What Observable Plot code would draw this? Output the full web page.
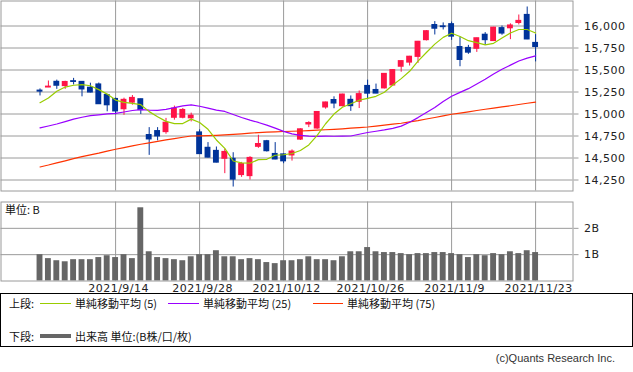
<!DOCTYPE html>
<html><head><meta charset="utf-8">
<script src="https://cdn.jsdelivr.net/npm/d3@7"></script>
<script src="https://cdn.jsdelivr.net/npm/@observablehq/plot@0.6"></script>
<style>
body{margin:0;background:#fff;}
#wrap{position:relative;width:633px;height:372px;overflow:hidden;font-family:"DejaVu Sans",sans-serif;}
#wrap svg{position:absolute;left:0;}
.t{position:absolute;font-family:"Noto Sans CJK JP","DejaVu Sans",sans-serif;font-size:11px;color:#111;white-space:nowrap;line-height:12px;}
.ln{position:absolute;}
</style></head><body><div id="wrap"></div>
<script>
const dates = ["2021/8/31","2021/9/1","2021/9/2","2021/9/3","2021/9/7","2021/9/8","2021/9/9","2021/9/10","2021/9/13","2021/9/14",
"2021/9/15","2021/9/16","2021/9/17","2021/9/20","2021/9/21","2021/9/22","2021/9/23","2021/9/24","2021/9/27","2021/9/28",
"2021/9/29","2021/9/30","2021/10/1","2021/10/4","2021/10/5","2021/10/6","2021/10/7","2021/10/8","2021/10/11","2021/10/12",
"2021/10/13","2021/10/14","2021/10/15","2021/10/18","2021/10/19","2021/10/20","2021/10/21","2021/10/22","2021/10/25","2021/10/26",
"2021/10/27","2021/10/28","2021/10/29","2021/11/1","2021/11/2","2021/11/3","2021/11/4","2021/11/5","2021/11/8","2021/11/9",
"2021/11/10","2021/11/11","2021/11/12","2021/11/15","2021/11/16","2021/11/17","2021/11/18","2021/11/19","2021/11/22","2021/11/23"];
const open  = [15265,15302,15365,15318,15372,15364,15298,15335,15215,15170,15055,15130,15167,14760,14805,14795,14958,14958,14952,14790,
14615,14580,14492,14490,14307,14295,14628,14690,14545,14540,14530,14710,14882,14836,15075,15158,15090,15160,15140,15318,
15272,15292,15325,15538,15585,15650,15840,16010,15995,16020,15760,15750,15742,15900,15830,15975,15975,16035,16125,15807];
const high  = [15285,15375,15385,15372,15405,15368,15350,15352,15220,15180,15180,15210,15170,14845,14845,14950,15090,15062,15010,14820,
14675,14625,14600,14560,14450,14515,14758,14700,14675,14545,14592,14832,14912,15027,15135,15195,15225,15205,15262,15385,
15340,15460,15505,15605,15655,15825,15948,16050,16035,16045,15875,15780,15862,15925,15985,16000,16025,16125,16216,15902];
const low   = [15205,15300,15280,15280,15330,15195,15240,15110,15025,14990,14985,15100,14995,14530,14695,14770,14930,14945,14910,14540,
14500,14445,14322,14170,14280,14250,14610,14568,14480,14435,14465,14700,14845,14826,15055,15060,15080,15030,15062,15168,
15230,15285,15322,15475,15545,15575,15830,15898,15955,15837,15537,15678,15700,15780,15825,15895,15845,16012,15845,15592];
const close = [15255,15310,15322,15363,15365,15280,15245,15112,15100,15030,15160,15182,15045,14712,14746,14900,15060,15045,14980,14545,
14505,14448,14568,14255,14430,14500,14658,14578,14484,14463,14572,14825,14896,15022,15130,15120,15220,15090,15225,15232,
15233,15455,15498,15600,15650,15820,15940,15970,15988,15880,15615,15698,15860,15840,15980,15915,16005,16057,15848,15762];
const volume = [1.00,0.85,0.77,0.73,0.81,0.81,0.81,0.89,0.96,0.89,1.00,0.85,2.78,1.11,0.89,0.85,0.81,0.77,0.92,1.00,
1.00,1.15,0.92,0.92,0.81,0.85,0.81,0.70,0.66,0.77,0.77,0.81,0.92,0.81,0.81,0.77,0.92,1.11,1.11,1.27,
1.11,1.08,1.08,1.04,1.00,1.04,1.04,1.08,1.08,1.04,1.00,0.89,1.00,0.96,1.04,1.00,1.11,1.04,1.15,1.08];
const ma5 = [15128,15182,15259,15306,15327,15333,15321,15277,15226,15158,15133,15120,15106,15027,14969,14916,14890,14891,14942,14903,
14826,14705,14609,14466,14444,14441,14482,14485,14531,14537,14551,14585,14649,14756,14889,14999,15077,15116,15157,15178,
15201,15247,15329,15402,15485,15601,15699,15794,15871,15918,15880,15833,15811,15785,15803,15863,15920,15960,15960,15920];
const ma25 = [14842,14864,14886,14914,14942,14963,14981,14990,15001,15008,15023,15040,15049,15044,15042,15052,15073,15093,15103,15088,
15067,15044,15029,14994,14960,14930,14904,14874,14839,14802,14774,14757,14748,14745,14748,14747,14748,14750,14770,14790,
14804,14819,14837,14862,14907,14959,15018,15074,15143,15202,15246,15288,15340,15394,15455,15509,15555,15602,15635,15661];
const ma75 = [14398,14420,14445,14468,14492,14515,14535,14555,14578,14599,14618,14637,14656,14672,14688,14705,14720,14736,14750,14752,
14755,14758,14763,14769,14775,14782,14789,14795,14798,14801,14804,14807,14811,14816,14821,14826,14832,14839,14845,14852,
14862,14873,14884,14895,14910,14925,14943,14960,14979,14997,15011,15025,15040,15054,15067,15080,15094,15108,15122,15136];
const priceTicks = [14250,14500,14750,15000,15250,15500,15750,16000];
const volTicks = [1,2];
const dateTickLabels = ["2021/9/14","2021/9/28","2021/10/12","2021/10/26","2021/11/9","2021/11/23"];

const rows = dates.map((d,i)=>({i, d, o:open[i], h:high[i], l:low[i], c:close[i], v:volume[i], m5:ma5[i], m25:ma25[i], m75:ma75[i]}));
const dateIdx = dateTickLabels.map(s => dates.indexOf(s));
const UP = "#ff1447", DOWN = "#003399", GRID = "#9a9a9a";
const xDomain = [-4.643, 63.452];
const col = d => d.c >= d.o ? UP : DOWN;
const wrap = document.getElementById("wrap");

const price = Plot.plot({
  width:633, height:192, marginLeft:0.5, marginRight:60.5, marginTop:0.5, marginBottom:1.5,
  style:{overflow:"visible", background:"transparent", letterSpacing:"0.5px"},
  x:{domain:xDomain, axis:null},
  y:{domain:[14125,16284.1], axis:null},
  color:{type:"identity"},
  marks:[
    Plot.gridY(priceTicks,{stroke:GRID, strokeOpacity:1}),
    Plot.ruleX(dateIdx,{stroke:GRID}),
    Plot.frame({stroke:GRID}),
    Plot.axisY(priceTicks,{anchor:"right", label:null, tickSize:5, tickPadding:6, stroke:GRID, fill:"#222", tickFormat:d3.format(","), fontSize:11, fontFamily:"DejaVu Sans"}),
    Plot.ruleX(rows,{x:"i", y1:"l", y2:"h", stroke:col, strokeWidth:1}),
    Plot.rect(rows,{x1:d=>d.i-0.35, x2:d=>d.i+0.35, y1:"o", y2:"c", fill:col, insetTop:-0.6, insetBottom:-0.6}),
    Plot.line(rows,{x:"i", y:"m75", stroke:"#ff3300", strokeWidth:1.2}),
    Plot.line(rows,{x:"i", y:"m25", stroke:"#9900ff", strokeWidth:1.2}),
    Plot.line(rows,{x:"i", y:"m5", stroke:"#99cc00", strokeWidth:1.2})
  ]
});
price.style.top = "0px";
wrap.appendChild(price);

const vol = Plot.plot({
  width:633, height:102, marginLeft:0.5, marginRight:60.5, marginTop:9.5, marginBottom:13.5,
  style:{overflow:"visible", background:"transparent", letterSpacing:"0.5px"},
  x:{domain:xDomain, axis:null},
  y:{domain:[0,3], axis:null},
  marks:[
    Plot.gridY(volTicks,{stroke:GRID, strokeOpacity:1}),
    Plot.ruleX(dateIdx,{stroke:GRID}),
    Plot.rectY(rows,{x1:d=>d.i-0.35, x2:d=>d.i+0.35, y:"v", fill:"#666666"}),
    Plot.frame({stroke:GRID}),
    Plot.axisY(volTicks,{anchor:"right", label:null, tickSize:5, tickPadding:6, stroke:GRID, fill:"#222", tickFormat:d=>d+"B", fontSize:11, fontFamily:"DejaVu Sans"}),
    Plot.axisX(dateIdx,{anchor:"bottom", label:null, tickSize:0, tickPadding:3, fill:"#222", tickFormat:i=>dates[i], fontSize:11, fontFamily:"DejaVu Sans", dx:3})
  ]
});
vol.style.top = "192px";
wrap.appendChild(vol);

function add(html){ wrap.insertAdjacentHTML("beforeend", html); }
add('<div class="t" style="left:5px;top:203px;">単位: B</div>');
add('<div style="position:absolute;left:0;top:293px;width:631px;height:52px;border:1px solid #000;"></div>');
add('<div class="t" style="left:9px;top:297px;">上段:</div>');
add('<div class="ln" style="left:40px;top:303px;width:31px;height:1px;background:#99cc00;"></div>');
add('<div class="t" style="left:75px;top:297px;">単純移動平均 (5)</div>');
add('<div class="ln" style="left:168px;top:303px;width:31px;height:1px;background:#9900ff;"></div>');
add('<div class="t" style="left:203px;top:297px;">単純移動平均 (25)</div>');
add('<div class="ln" style="left:313px;top:303px;width:30px;height:1px;background:#ff3300;"></div>');
add('<div class="t" style="left:347px;top:297px;">単純移動平均 (75)</div>');
add('<div class="t" style="left:9px;top:330px;">下段:</div>');
add('<div class="ln" style="left:40px;top:334px;width:31px;height:4px;background:#666666;"></div>');
add('<div class="t" style="left:75px;top:330px;">出来高 単位:(B株/口/枚)</div>');
add('<div class="t" style="right:18px;top:352px;font-family:\'Liberation Sans\',sans-serif;color:#333;">(c)Quants Research Inc.</div>');
</script></body></html>
